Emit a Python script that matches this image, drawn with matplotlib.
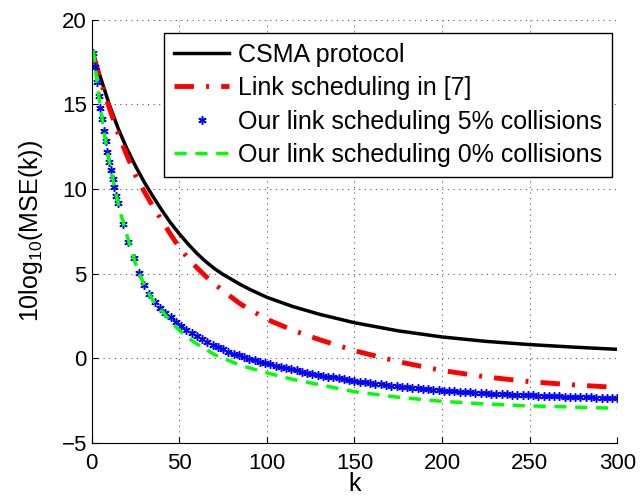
import matplotlib
matplotlib.use("Agg")
import matplotlib.pyplot as plt

plt.rcParams['font.family'] = ['Liberation Sans', 'DejaVu Sans']
plt.rcParams['mathtext.fontset'] = 'custom'
plt.rcParams['mathtext.rm'] = 'Liberation Sans'
plt.rcParams['mathtext.default'] = 'regular'

# values (10log10 MSE in dB)
k_csma = [1, 5, 10, 15, 20, 25, 30, 35, 40, 45, 50, 55, 60, 65, 70, 75, 85,
          90, 100, 115, 130, 150, 175, 200, 225, 250, 275, 300]
mse_csma = [18.0, 16.6, 15.0, 13.6, 12.4, 11.35, 10.4, 9.55, 8.75, 8.0, 7.35,
            6.75, 6.2, 5.72, 5.3, 4.95, 4.35, 4.08, 3.6, 3.05, 2.6, 2.1, 1.62,
            1.26, 1.0, 0.81, 0.66, 0.53]

k_ref7 = k_csma
mse_ref7 = [17.8, 16.4, 14.8, 13.3, 12.0, 10.8, 9.85, 8.95, 8.15, 7.32, 6.55,
            5.9, 5.35, 4.85, 4.4, 3.98, 3.2, 2.9, 2.3, 1.65, 1.1, 0.45, -0.2,
            -0.72, -1.1, -1.38, -1.57, -1.72]

k_ours0 = [1, 2, 3, 4, 5, 7, 10, 13, 16, 20, 25, 30, 35, 40, 45, 50, 55, 60,
           70, 85, 100, 115, 130, 150, 175, 200, 225, 250, 275, 300]
mse_ours0 = [18.2, 17.2, 16.3, 15.5, 14.8, 13.4, 11.6, 10.1, 8.75, 7.3, 5.6,
             4.3, 3.4, 2.8, 2.2, 1.65, 1.22, 0.85, 0.22, -0.42, -0.86, -1.25,
             -1.56, -1.97, -2.3, -2.54, -2.7, -2.81, -2.88, -2.95]

k_ours5 = list(range(1, 16)) + list(range(18, 301, 3))
mse_ours5 = [18.0, 17.2, 16.3, 15.5, 14.8, 14.1, 13.4, 12.8, 12.2, 11.6,
             11.1, 10.6, 10.1, 9.6, 9.15,
             7.95, 6.85, 5.9, 5.05, 4.35, 3.8, 3.35, 2.98, 2.68, 2.42,
             2.16, 1.9, 1.68, 1.48, 1.3, 1.13, 0.97, 0.8, 0.66, 0.53,
             0.4, 0.28, 0.18, 0.08, -0.02, -0.11, -0.2, -0.28, -0.36, -0.44,
             -0.51, -0.58, -0.65, -0.72, -0.78, -0.84, -0.9, -0.96, -1.02, -1.08,
             -1.13, -1.18, -1.23, -1.28, -1.33, -1.37, -1.41, -1.45, -1.49, -1.53,
             -1.57, -1.61, -1.64, -1.67, -1.7, -1.73, -1.76, -1.79, -1.82, -1.85,
             -1.88, -1.91, -1.93, -1.95, -1.97, -1.99, -2.01, -2.03, -2.05, -2.06,
             -2.08, -2.09, -2.11, -2.12, -2.14, -2.15, -2.16, -2.18, -2.19, -2.2,
             -2.21, -2.22, -2.23, -2.25, -2.26, -2.27, -2.28, -2.29, -2.3, -2.31,
             -2.32, -2.33, -2.34, -2.35, -2.36]

labels = ["CSMA protocol", "Link scheduling in [7]",
          "Our link scheduling 5% collisions", "Our link scheduling 0% collisions"]

fig = plt.figure(figsize=(6.41, 5.0), dpi=100)
ax = fig.add_axes([0.143, 0.114, 0.820, 0.847])

ax.plot(k_csma, mse_csma, color='black', lw=2.5, label=labels[0])
ax.plot(k_ref7, mse_ref7, color='red', lw=3.5, linestyle=(0, (4, 2.5, 0.6, 2.5)),
        label=labels[1])
# matlab-like asterisk marker
ax.plot(k_ours5, mse_ours5, linestyle='none', marker=(6, 2, 0), color='blue',
        markersize=6, markeredgewidth=1.1, label=labels[2])
ax.plot(k_ours0, mse_ours0, color='#00ff00', lw=2.5, linestyle=(0, (3.5, 2.5)),
        label=labels[3])

ax.set_xlim(0, 300)
ax.set_ylim(-5, 20)
ax.set_xticks(range(0, 301, 50))
ax.set_yticks(range(-5, 21, 5))
ax.tick_params(direction='in', labelsize=16, length=4)
ax.tick_params(axis='x', pad=7)
ax.grid(True, linestyle=(0, (1, 4)), color='#555555', lw=0.8)
ax.spines['top'].set_visible(False)
ax.spines['right'].set_visible(False)
ax.set_xlabel("k", fontsize=18, labelpad=-1)
ax.set_ylabel("10log$_{10}$(MSE(k))", fontsize=18, labelpad=12)

leg = ax.legend(loc='upper right', bbox_to_anchor=(0.99, 0.969), fontsize=18,
                fancybox=False, edgecolor='black', framealpha=1,
                handlelength=2.2, handletextpad=0.35, borderpad=0.4,
                labelspacing=0.38, borderaxespad=0)
leg.get_frame().set_linewidth(1.0)

fig.savefig("out.png", dpi=100)
